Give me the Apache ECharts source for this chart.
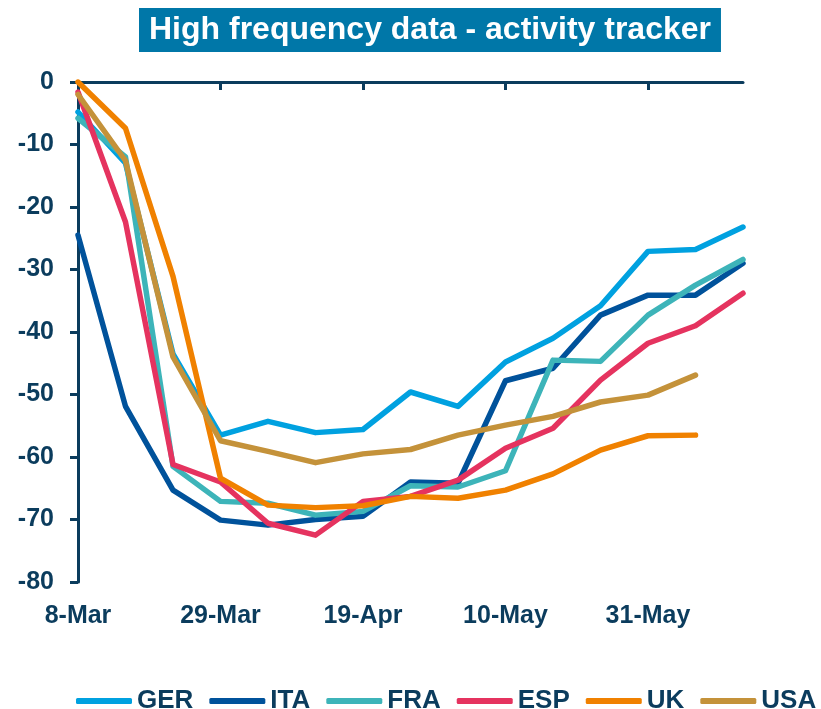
<!DOCTYPE html>
<html>
<head>
<meta charset="utf-8">
<script src="https://cdn.jsdelivr.net/npm/echarts@6/dist/echarts.min.js"></script>
<style>
  html, body { margin: 0; padding: 0; background: #fff; }
  #chart { width: 821px; height: 709px; }
</style>
</head>
<body>
<div id="chart"></div>
<script>
// weekly dates, 8-Mar to 14-Jun
const weeks = ['8-Mar', '15-Mar', '22-Mar', '29-Mar', '5-Apr', '12-Apr', '19-Apr', '26-Apr',
  '3-May', '10-May', '17-May', '24-May', '31-May', '7-Jun', '14-Jun'];

const ger = [-4.8, -13, -43.5, -56.5, -54.3, -56.1, -55.6, -49.6, -51.9, -44.8, -41, -35.8, -27.1, -26.8, -23.2];
const ita = [-24.5, -51.9, -65.3, -70.1, -70.9, -70.0, -69.5, -64, -64.2, -47.8, -45.8, -37.3, -34.1, -34.1, -29];
const fra = [-5.8, -12, -61.5, -67.1, -67.4, -69.3, -68.7, -64.6, -64.8, -62.2, -44.5, -44.7, -37.3, -32.5, -28.4];
const esp = [-1.6, -22.4, -61.2, -64, -70.6, -72.5, -67.1, -66.3, -63.7, -58.6, -55.4, -47.7, -41.8, -39, -33.8];
const uk = [0, -7.4, -31.1, -63.4, -67.7, -68.1, -67.8, -66.3, -66.6, -65.3, -62.7, -58.9, -56.6, -56.5, null];
const usa = [-2, -12.6, -44, -57.4, -59.1, -60.9, -59.5, -58.8, -56.5, -54.9, -53.5, -51.2, -50.1, -46.9, null];

const navy = '#0b3c5d';
const font = 'Liberation Sans, Arial, sans-serif';

const seriesList = [
  { name: 'GER', data: ger, color: '#00a1e0' },
  { name: 'ITA', data: ita, color: '#00529b' },
  { name: 'FRA', data: fra, color: '#3db4b9' },
  { name: 'ESP', data: esp, color: '#e5335f' },
  { name: 'UK', data: uk, color: '#f08100' },
  { name: 'USA', data: usa, color: '#c4923a' }
];

const option = {
  animation: false,
  textStyle: { fontFamily: font },
  title: {
    text: 'High frequency data - activity tracker',
    left: 139,
    top: 8,
    backgroundColor: '#0077a8',
    padding: [6, 10, 6, 10],
    textStyle: { color: '#fff', fontSize: 32, fontWeight: 'bold', fontFamily: font, lineHeight: 32 }
  },
  legend: {
    left: 76,
    top: 688,
    width: 745,
    padding: 0,
    icon: 'roundRect',
    itemWidth: 56,
    itemHeight: 6,
    itemGap: 16,
    textStyle: { color: navy, fontSize: 26, fontWeight: 'bold', fontFamily: font },
    data: seriesList.map(s => s.name)
  },
  grid: { left: 78, right: 78, top: 82, bottom: 127 },
  xAxis: [
    {
      type: 'category',
      data: weeks,
      boundaryGap: false,
      position: 'bottom',
      axisLine: { show: false },
      axisTick: { show: false },
      axisLabel: {
        interval: 2,
        margin: 22,
        color: navy,
        fontSize: 25,
        fontWeight: 'bold',
        fontFamily: font
      }
    },
    {
      type: 'category',
      data: weeks,
      boundaryGap: false,
      position: 'top',
      axisLine: { show: true, lineStyle: { color: navy, width: 3 } },
      axisTick: { show: true, inside: true, interval: 2, length: 8, lineStyle: { color: navy, width: 3 } },
      axisLabel: { show: false }
    }
  ],
  yAxis: {
    type: 'value',
    min: -80,
    max: 0,
    interval: 10,
    splitLine: { show: false },
    axisLine: { show: true, lineStyle: { color: navy, width: 3 } },
    axisTick: { show: true, length: 8, lineStyle: { color: navy, width: 3 } },
    axisLabel: {
      margin: 24,
      color: navy,
      fontSize: 25,
      fontWeight: 'bold',
      fontFamily: font
    }
  },
  series: seriesList.map(s => ({
    name: s.name,
    type: 'line',
    data: s.data,
    color: s.color,
    showSymbol: false,
    symbol: 'none',
    lineStyle: { width: 5.5, color: s.color, cap: 'round', join: 'round' }
  }))
};

const chart = echarts.init(document.getElementById('chart'));
chart.setOption(option);
</script>
</body>
</html>
